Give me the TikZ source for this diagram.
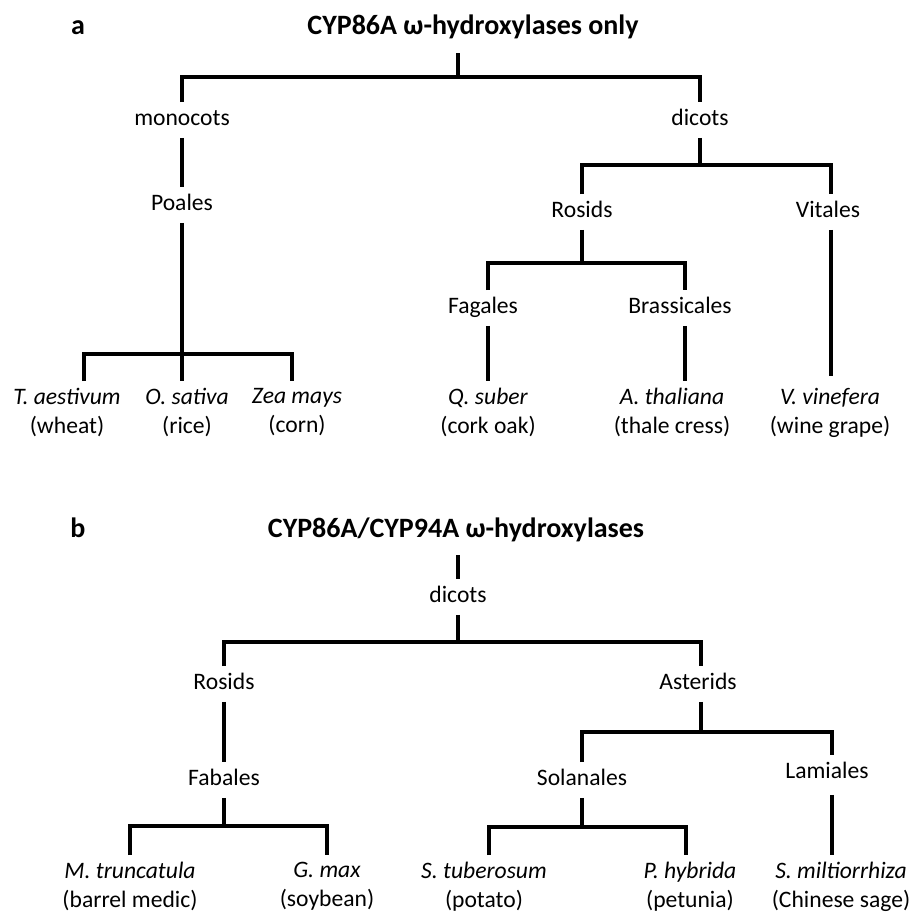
\documentclass[tikz,border=0pt]{standalone}
\usepackage{fontspec}
\setmainfont{Carlito}
\usepackage{tikz}
\usetikzlibrary{positioning, calc}

\tikzset{
  branch/.style={line width=2pt, line join=miter},
  taxon/.style={inner xsep=1pt, inner ysep=3.5pt, text height=8pt, text depth=2.5pt,
    font=\fontsize{11.8}{14.5}\selectfont},
  species/.style={align=center, anchor=north, inner xsep=1pt, inner ysep=3.5pt,
    font=\fontsize{11.8}{14.5}\selectfont, execute at begin node=\vphantom{(}},
  heading/.style={inner xsep=1pt, inner ysep=6pt, text height=10pt, text depth=3pt,
    font=\fontsize{14}{16}\selectfont\bfseries},
}

\begin{document}
\begin{tikzpicture}[x=0.5pt, y=-0.5pt]
    \useasboundingbox (0,0) rectangle (914,914);

    % Panel a: CYP86A only
    \node[heading] (labA) at (78,28) {a};
    \node[heading] (titleA) at (473,28) {CYP86A ω-hydroxylases only};

    \node[taxon] (monocots) at (182,120) {monocots};
    \node[taxon] (poales) at (182,205) {Poales};
    \node[taxon] (dicotsA) at (700,120) {dicots};
    \node[taxon] (rosidsA) at (582,212) {Rosids};
    \node[taxon] (vitales) at (828,212) {Vitales};
    \node[taxon] (fagales) at (483,308) {Fagales};
    \node[taxon] (brassicales) at (680,308) {Brassicales};

    \node[species] (triticum) at (67,381) {\textit{T. aestivum}\\(wheat)};
    \node[species] (oryza) at (187,381) {\textit{O. sativa}\\(rice)};
    \node[species] (zea) at (297,381) {\textit{Zea mays}\\(corn)};
    \node[species] (quercus) at (488,381) {\textit{Q. suber}\\(cork oak)};
    \node[species] (arabidopsis) at (672,381) {\textit{A. thaliana}\\(thale cress)};
    \node[species] (vitis) at (830,381) {\textit{V. vinefera}\\(wine grape)};

    % Junctions of panel a
    \coordinate (rootA) at (458,77);
    \coordinate (barP) at (182,354);
    \coordinate (barD) at (700,165);
    \coordinate (barR) at (582,263);

    \draw[branch] (titleA.south -| rootA) -- (rootA);
    \draw[branch] (monocots.north) |- (rootA) -| (dicotsA.north);
    \draw[branch] (monocots.south) -- (poales.north);
    \draw[branch] (poales.south) -- (poales.south |- oryza.north);
    \draw[branch] ([xshift=8.5pt]triticum.north) |- (barP) -| ([xshift=-2.5pt]zea.north);
    \draw[branch] (dicotsA.south) -- (barD);
    \draw[branch] (rosidsA.north) |- (barD) -| ([xshift=1.5pt]vitales.north);
    \draw[branch] (rosidsA.south) -- (barR);
    \draw[branch] ([xshift=2.5pt]fagales.north) |- (barR) -| ([xshift=2.5pt]brassicales.north);
    \draw[branch] ([xshift=2.5pt]fagales.south) -- (quercus.north);
    \draw[branch] ([xshift=2.5pt]brassicales.south) -- ([xshift=6.5pt]arabidopsis.north);
    \draw[branch] ([xshift=1.5pt]vitales.south) -- ([xshift=0.5pt,yshift=2.5pt]vitis.north);

    % Panel b: CYP86A/CYP94A
    \node[heading] (labB) at (78,530) {b};
    \node[heading] (titleB) at (456,530) {CYP86A/CYP94A ω-hydroxylases};

    \node[taxon] (dicotsB) at (458,597) {dicots};
    \node[taxon] (rosidsB) at (224,684) {Rosids};
    \node[taxon] (asterids) at (698,684) {Asterids};
    \node[taxon] (fabales) at (224,780) {Fabales};
    \node[taxon] (solanales) at (582,780) {Solanales};
    \node[taxon] (lamiales) at (827,773) {Lamiales};

    \node[species] (medicago) at (130,855) {\textit{M. truncatula}\\(barrel medic)};
    \node[species] (glycine) at (327,855) {\textit{G. max}\\(soybean)};
    \node[species] (solanum) at (484,855) {\textit{S. tuberosum}\\(potato)};
    \node[species] (petunia) at (690,855) {\textit{P. hybrida}\\(petunia)};
    \node[species] (salvia) at (841,855) {\textit{S. miltiorrhiza}\\(Chinese sage)};

    % Junctions of panel b
    \coordinate (barB) at (458,642);
    \coordinate (barF) at (224,826);
    \coordinate (barS) at (701,732);
    \coordinate (barSo) at (582,827);

    \draw[branch] (titleB.south -| dicotsB.north) -- (dicotsB.north);
    \draw[branch] (dicotsB.south) -- (barB);
    \draw[branch] (rosidsB.north) |- (barB) -| ([xshift=1.5pt]asterids.north);
    \draw[branch] (rosidsB.south) -- (fabales.north);
    \draw[branch] (fabales.south) -- (barF);
    \draw[branch] (medicago.north) |- (barF) -| (glycine.north);
    \draw[branch] ([xshift=1.5pt]asterids.south) -- (barS);
    \draw[branch] (solanales.north) |- (barS) -| ([xshift=2.5pt]lamiales.north);
    \draw[branch] (solanales.south) -- (barSo);
    \draw[branch] ([xshift=2.5pt]solanum.north) |- (barSo) -| ([xshift=-2pt]petunia.north);
    \draw[branch] ([xshift=2.5pt,yshift=-2pt]lamiales.south) -- ([xshift=-4.5pt]salvia.north);

\end{tikzpicture}
\end{document}
